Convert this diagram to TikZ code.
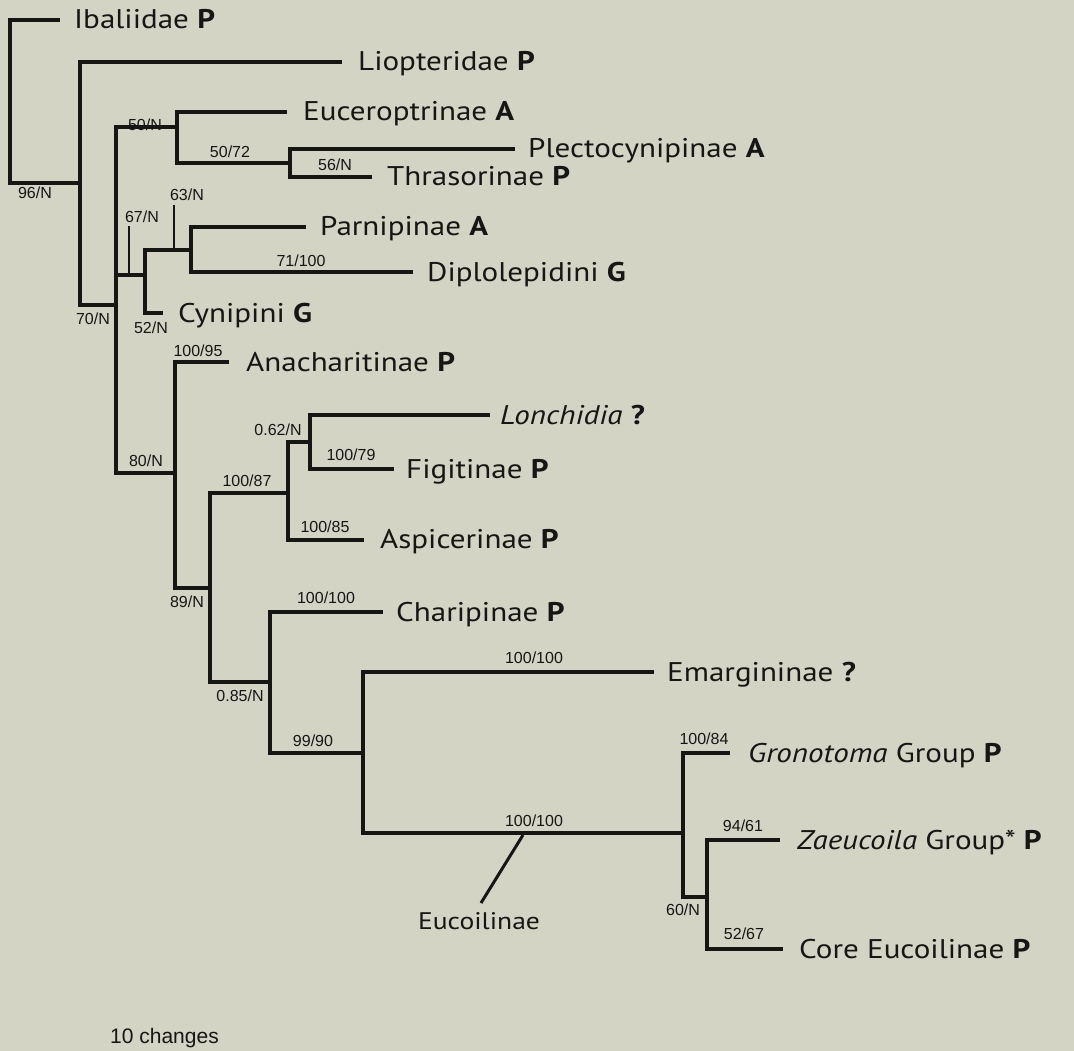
\documentclass[tikz,border=0pt]{standalone}
\usepackage{fontspec}
\setmainfont{PT Sans}[FakeStretch=1.15]
\newfontfamily\supfont{Liberation Sans}
\definecolor{bg}{RGB}{211,212,196}
\definecolor{ink}{RGB}{22,22,20}
\begin{document}
\begin{tikzpicture}[x=1pt,y=-1pt,
  br/.style={line width=4.8pt, line join=miter, draw=ink},
  tick/.style={line width=1.5pt, draw=ink},
  leaf/.style={anchor=base west, inner sep=0pt, text=ink, font=\fontsize{27}{30}\selectfont},
  sup/.style={anchor=center, inner sep=0pt, text=ink, font=\supfont\fontsize{16}{18}\selectfont}]
\fill[bg] (0,0) rectangle (1074,1051);
\useasboundingbox (0,0) rectangle (1074,1051);
% internal nodes
\coordinate (R) at (10,183);
\coordinate (A) at (80,183);
\coordinate (B) at (116,305);
\coordinate (C) at (177,127);
\coordinate (F) at (290,163);
\coordinate (D) at (145,275);
\coordinate (G) at (191,250);
\coordinate (E) at (175,473);
\coordinate (H) at (210,588);
\coordinate (I) at (288,493);
\coordinate (K) at (310,442);
\coordinate (J) at (270,682);
\coordinate (L) at (363,753);
\coordinate (M) at (683,833);
\coordinate (N) at (707,897);
% tips
\coordinate (tIba) at (60,20);
\coordinate (tLio) at (342,62);
\coordinate (tEuc) at (287,112);
\coordinate (tPle) at (515,149);
\coordinate (tThr) at (372,177);
\coordinate (tPar) at (306,227);
\coordinate (tDip) at (413,272);
\coordinate (tCyn) at (163,313);
\coordinate (tAna) at (229,362);
\coordinate (tLon) at (490,415);
\coordinate (tFig) at (394,469);
\coordinate (tAsp) at (364,540);
\coordinate (tCha) at (383,612);
\coordinate (tEma) at (654,672);
\coordinate (tGro) at (730,753);
\coordinate (tZae) at (780,840);
\coordinate (tCor) at (783,949);
% branches
\draw[br] (tIba) -| (R) -- (A);
\draw[br] (tLio) -| (A) |- (B);
\draw[br] (C) -| (B) |- (E);
\draw[br] (B) |- (D);
\draw[br] (tEuc) -| (C) |- (F);
\draw[br] (tPle) -| (F) |- (tThr);
\draw[br] (G) -| (D) |- (tCyn);
\draw[br] (tPar) -| (G) |- (tDip);
\draw[br] (tAna) -| (E) |- (H);
\draw[br] (I) -| (H) |- (J);
\draw[br] (K) -| (I) |- (tAsp);
\draw[br] (tLon) -| (K) |- (tFig);
\draw[br] (tCha) -| (J) |- (L);
\draw[br] (tEma) -| (L) |- (M);
\draw[br] (tGro) -| (M) |- (N);
\draw[br] (tZae) -| (N) |- (tCor);
% ticks
\coordinate (k67a) at (129,226); \coordinate (k67b) at (129,275);
\coordinate (k63a) at (174,205); \coordinate (k63b) at (174,250);
\draw[tick] (k67a) -- (k67b);
\draw[tick] (k63a) -- (k63b);
% leaf labels
\node[leaf] (lIba) at (74,29) {Ibaliidae \textbf{P}};
\node[leaf] (lLio) at (358,71) {Liopteridae \textbf{P}};
\node[leaf] (lEuc) at (303,121) {Euceroptrinae \textbf{A}};
\node[leaf] (lPle) at (528,158) {Plectocynipinae \textbf{A}};
\node[leaf] (lThr) at (387,186) {Thrasorinae \textbf{P}};
\node[leaf] (lPar) at (320,236) {Parnipinae \textbf{A}};
\node[leaf] (lDip) at (427,281) {Diplolepidini \textbf{G}};
\node[leaf] (lCyn) at (178,322) {Cynipini \textbf{G}};
\node[leaf] (lAna) at (246,371) {Anacharitinae \textbf{P}};
\node[leaf] (lLon) at (500,424) {\textit{Lonchidia} \textbf{?}};
\node[leaf] (lFig) at (406,478) {Figitinae \textbf{P}};
\node[leaf] (lAsp) at (380,548) {Aspicerinae \textbf{P}};
\node[leaf] (lCha) at (396,621) {Charipinae \textbf{P}};
\node[leaf] (lEma) at (667,681) {Emargininae \textbf{?}};
\node[leaf] (lGro) at (748,762) {\textit{Gronotoma} Group \textbf{P}};
\node[leaf] (lZae) at (797,849) {\textit{Zaeucoila} Group* \textbf{P}};
\node[leaf] (lCor) at (799,958) {Core Eucoilinae \textbf{P}};
% Eucoilinae pointer
\node[anchor=center, inner sep=0pt, text=ink, font=\fontsize{24}{28}\selectfont] (lEucoil) at (479,921) {Eucoilinae};
\coordinate (pE) at (523,835);
\coordinate (pEend) at (481,903);
\draw[line width=3pt, draw=ink] (pE) -- (pEend);
% support values
\node[sup] (s1) at (35,193) {96/N};
\node[sup] (s2) at (93,319) {70/N};
\node[sup] (s3) at (145,125) {50/N};
\node[sup] (s4) at (230,152) {50/72};
\node[sup] (s5) at (335,165) {56/N};
\node[sup] (s6) at (142,217) {67/N};
\node[sup] (s7) at (187,195) {63/N};
\node[sup] (s8) at (301,261) {71/100};
\node[sup] (s9) at (151,328) {52/N};
\node[sup] (s10) at (198,351) {100/95};
\node[sup] (s11) at (146,461) {80/N};
\node[sup] (s12) at (278,430) {0.62/N};
\node[sup] (s13) at (351,455) {100/79};
\node[sup] (s14) at (247,481) {100/87};
\node[sup] (s15) at (325,527) {100/85};
\node[sup] (s16) at (187,602) {89/N};
\node[sup] (s17) at (326,598) {100/100};
\node[sup] (s18) at (240,696) {0.85/N};
\node[sup] (s19) at (313,741) {99/90};
\node[sup] (s20) at (534,658) {100/100};
\node[sup] (s21) at (534,821) {100/100};
\node[sup] (s22) at (704,739) {100/84};
\node[sup] (s23) at (743,826) {94/61};
\node[sup] (s24) at (683,910) {60/N};
\node[sup] (s25) at (744,934) {52/67};
\node[anchor=base west, inner sep=0pt, text=ink, font=\supfont\fontsize{21}{23}\selectfont] (scale) at (110,1043) {10 changes};
\end{tikzpicture}
\end{document}
